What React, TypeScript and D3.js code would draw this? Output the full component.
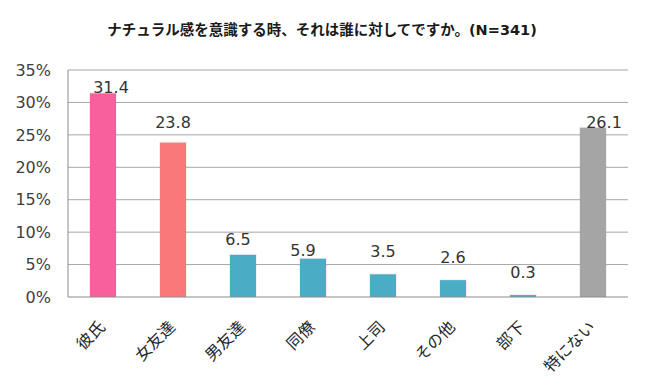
import React from "react";
import * as d3 from "d3";

const categories = ["彼氏", "女友達", "男友達", "同僚", "上司", "その他", "部下", "特にない"];
const values = [31.4, 23.8, 6.5, 5.9, 3.5, 2.6, 0.3, 26.1];
const yTicks = [0, 5, 10, 15, 20, 25, 30, 35];
const title = "ナチュラル感を意識する時、それは誰に対してですか。(N=341)";

// styling (not data)
const barColors = ["#F7609A", "#FA787A", "#4BACC6", "#4BACC6", "#4BACC6", "#4BACC6", "#4BACC6", "#A5A5A5"];
// label nudges in px [dx, gap above bar top]
const labelNudge: [number, number][] = [
  [8, 0], [0, 15], [-5, 10], [-10, 3], [0, 17], [0, 17], [0, 17], [11, 0],
];

const W = 650;
const H = 390;
const left = 68;
const right = 628;
const top = 70;
const bottom = 297;

export default function App() {
  const x = d3.scaleBand<string>().domain(categories).range([left, right]).padding(0);
  const y = d3.scaleLinear().domain([0, 35]).range([bottom, top]);
  const bw = 26;
  const jp = "'Noto Sans CJK JP', sans-serif";
  const num = "'DejaVu Sans', sans-serif";
  return (
    <svg width={W} height={H} style={{ position: "absolute", left: 0, top: 0, background: "#fff" }}>
      <rect x={0} y={0} width={W} height={H} fill="#fff" />
      <text
        x={322}
        y={35}
        textAnchor="middle"
        fontFamily={"'DejaVu Sans', 'Noto Sans CJK JP', sans-serif"}
        fontWeight="bold"
        fontSize={14.5}
        fill="#1a1a1a"
      >
        {title}
      </text>
      {yTicks.map((t) => (
        <g key={t}>
          {t > 0 && (
            <line x1={left} x2={right} y1={y(t)} y2={y(t)} stroke="#a6a6a6" strokeWidth={1} />
          )}
          <text
            x={51}
            y={y(t)}
            dy="0.36em"
            textAnchor="end"
            fontFamily={num}
            fontSize={16}
            fill="#404040"
          >
            {t}%
          </text>
        </g>
      ))}
      <line x1={left} x2={left} y1={top} y2={bottom} stroke="#8c8c8c" strokeWidth={1} />
      {categories.map((c, i) => {
        const cx = (x(c) as number) + x.bandwidth() / 2;
        const yt = y(values[i]);
        const [dx, gap] = labelNudge[i];
        return (
          <g key={c}>
            <rect
              x={cx - bw / 2 - 1}
              y={yt - 1}
              width={bw + 2}
              height={bottom - yt + 1}
              fill="#000"
              opacity={0.06}
            />
            <rect x={cx - bw / 2} y={yt} width={bw} height={bottom - yt} fill={barColors[i]} />
            <text
              x={cx + dx}
              y={yt - gap}
              textAnchor="middle"
              fontFamily={num}
              fontSize={16}
              fill="#333"
            >
              {values[i].toFixed(1)}
            </text>
            <text
              transform={`translate(${cx + 3},${328}) rotate(-45)`}
              textAnchor="end"
              fontFamily={jp}
              fontSize={16}
              fill="#262626"
            >
              {c}
            </text>
          </g>
        );
      })}
      <line x1={left} x2={right} y1={bottom} y2={bottom} stroke="#8c8c8c" strokeWidth={1} />
    </svg>
  );
}
